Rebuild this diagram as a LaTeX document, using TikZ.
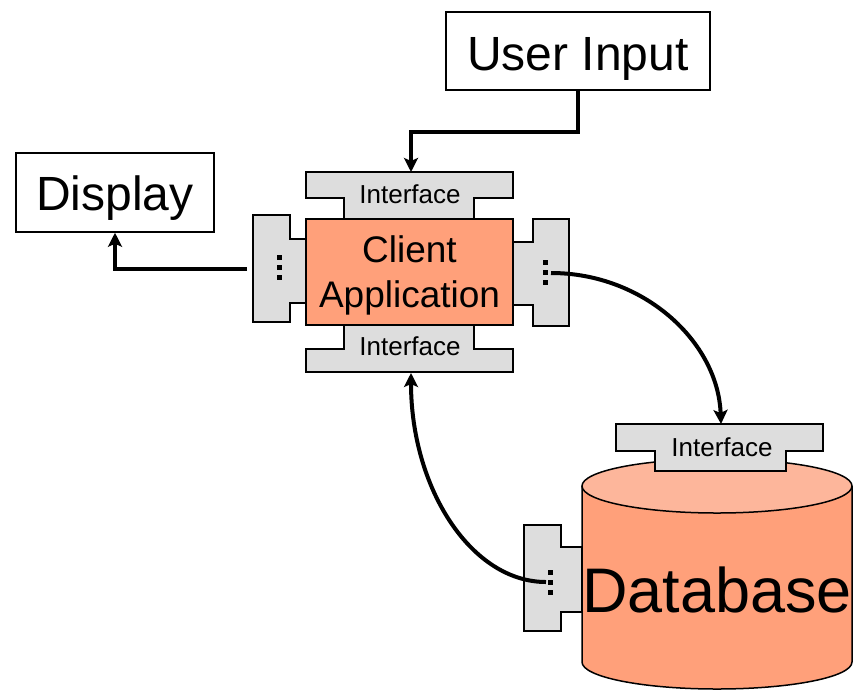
\documentclass[tikz,border=0pt]{standalone}
\usepackage{fontspec}
\setmainfont{Liberation Sans}
\usetikzlibrary{arrows.meta}
\definecolor{appfill}{RGB}{255,160,122}
\definecolor{dbtop}{RGB}{253,182,155}
\definecolor{ifacegray}{RGB}{221,221,221}
\begin{document}
\begin{tikzpicture}[x=1pt, y=1pt, >={Stealth[length=14pt,width=14pt,inset=3pt]},
	box/.style={draw, line width=1.5pt, inner sep=0pt},
	iface/.style={draw, fill=ifacegray, line width=1.5pt},
	conn/.style={->, line width=4pt},
	iftext/.style={font=\fontsize{26}{30}\selectfont}]
	\useasboundingbox (0,0) rectangle (853,-691);
	% the two outer boxes
	\node[box, minimum width=264pt, minimum height=78pt, text height=38pt, text depth=0pt, font=\fontsize{48}{55}\selectfont] (input) at (578,-51) {User Input};
	\node[box, minimum width=198pt, minimum height=79pt, text height=35pt, text depth=0pt, font=\fontsize{48}{55}\selectfont] (display) at (115,-192.5) {Display};
	% interfaces round the client
	\draw[iface] (306,-172) -- (513,-172) -- (513,-198) -- (474,-198) -- (474,-219) -- (344,-219) -- (344,-198) -- (306,-198) -- cycle;
	\draw[iface] (344,-325) -- (474,-325) -- (474,-349) -- (513,-349) -- (513,-372) -- (306,-372) -- (306,-349) -- (344,-349) -- cycle;
	\draw[iface] (253,-215) -- (290,-215) -- (290,-239) -- (306,-239) -- (306,-303) -- (290,-303) -- (290,-322) -- (253,-322) -- cycle;
	\draw[iface] (513,-242) -- (533,-242) -- (533,-219) -- (569,-219) -- (569,-326) -- (533,-326) -- (533,-305) -- (513,-305) -- cycle;
	\node[box, fill=appfill, minimum width=207pt, minimum height=106pt, align=center, text height=72pt, text depth=2pt, font=\fontsize{37}{45}\selectfont] (client) at (409.5,-272) {Client\\Application};
	\node[iftext] (topname) at (410,-194.5) {Interface};
	\node[iftext] (botname) at (410,-346.5) {Interface};
	% database cylinder
	\draw[iface] (524,-525) -- (561,-525) -- (561,-547) -- (582,-547) -- (582,-612) -- (561,-612) -- (561,-631) -- (524,-631) -- cycle;
	\draw[fill=appfill, line width=1.5pt] (582,-486) -- (582,-662) arc[start angle=180, end angle=360, x radius=135, y radius=27] -- (852,-486);
	\draw[fill=dbtop, line width=1.5pt] (717,-486) ellipse[x radius=135, y radius=27];
	\draw[iface] (616,-424) -- (823,-424) -- (823,-451) -- (786,-451) -- (786,-471) -- (655,-471) -- (655,-451) -- (616,-451) -- cycle;
	\node[iftext] (dbname) at (722,-447) {Interface};
	\node[font=\fontsize{63}{70}\selectfont] (db) at (717,-590) {Database};
	% port dots
	\foreach \dy in {0,10,20} {
		\fill (277,-255-\dy) rectangle ++(5,-5);
		\fill (543,-260-\dy) rectangle ++(5,-5);
		\fill (548,-570-\dy) rectangle ++(5,-5);
	}
	\coordinate (topif) at (411,-172);
	\coordinate (botif) at (411,-373);
	\coordinate (dbif) at (721,-424);
	\coordinate (lport) at (247,-269);
	\coordinate (rport) at (551,-273);
	\coordinate (dbport) at (546,-582);
	% connectors
	\draw[conn] (input.south) -- ++(0,-41) -| (topif);
	\draw[conn] (lport) -| (display.south);
	\draw[conn] (rport) to[out=0, in=92, out distance=93pt, in distance=82pt] (dbif);
	\draw[conn] (dbport) to[out=180, in=-90, out distance=75pt, in distance=115pt] (botif);
\end{tikzpicture}
\end{document}
